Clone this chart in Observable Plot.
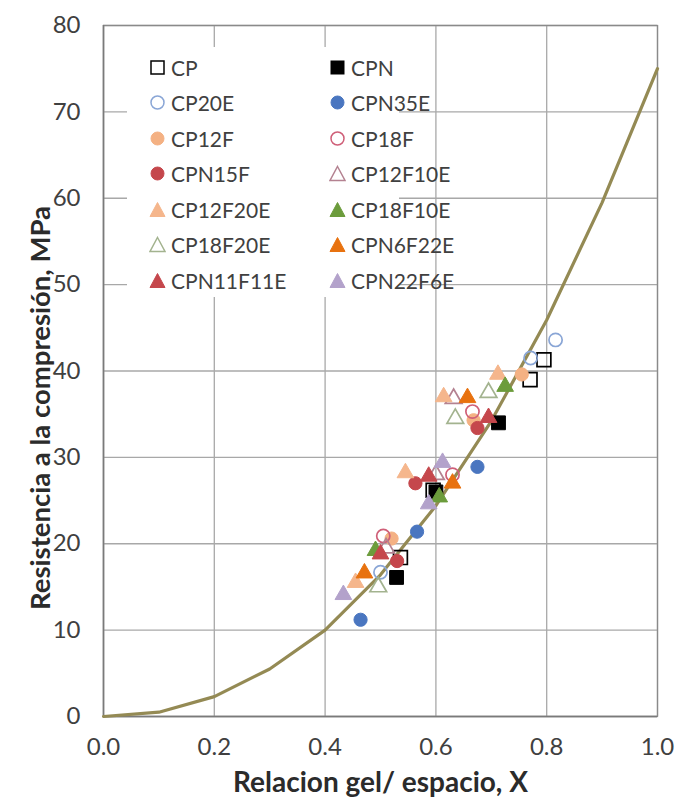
<!DOCTYPE html>
<html><head><meta charset="utf-8">
<script src="https://cdn.jsdelivr.net/npm/d3@7"></script>
<script src="https://cdn.jsdelivr.net/npm/@observablehq/plot@0.6"></script>
<style>
body{margin:0;background:#fff;}
#wrap{position:relative;width:677px;height:804px;font-family:Lato, "Open Sans", sans-serif;}
#legend{position:absolute;left:127px;top:47px;width:272px;height:250px;background:#fff;}
.item{position:absolute;display:flex;align-items:center;height:26px;font-size:21px;color:#404040;white-space:nowrap;}
.item svg{margin-right:5px;}
</style></head><body><div id="wrap"><div id="legend"></div></div>
<script>
// ---- data ----
const xTicks = [0, 0.2, 0.4, 0.6, 0.8, 1.0];
const yTicks = [0, 10, 20, 30, 40, 50, 60, 70, 80];

const curveX = [0, 0.1, 0.2, 0.3, 0.4, 0.5, 0.6, 0.7, 0.8, 0.9, 1.0];
const curveY = [0, 0.5, 2.3, 5.5, 10, 16.4, 24.4, 34.2, 45.9, 59.5, 75];

const CP        = [[0.536, 18.4], [0.595, 26.2], [0.770, 39.0], [0.795, 41.3]];
const CPN       = [[0.529, 16.1], [0.600, 26.0], [0.713, 34.0]];
const CP20E     = [[0.500, 16.7], [0.771, 41.5], [0.816, 43.6]];
const CPN35E    = [[0.464, 11.2], [0.566, 21.4], [0.675, 28.9]];
const CP12F     = [[0.520, 20.6], [0.668, 34.3], [0.755, 39.6]];
const CP18F     = [[0.505, 20.9], [0.630, 28.0], [0.666, 35.3]];
const CPN15F    = [[0.530, 18.0], [0.563, 27.0], [0.675, 33.4]];
const CP12F10E  = [[0.510, 19.5], [0.600, 28.0], [0.632, 36.8]];
const CP12F20E  = [[0.455, 15.5], [0.545, 28.2], [0.614, 37.0], [0.712, 39.6]];
const CP18F10E  = [[0.491, 19.2], [0.606, 25.4], [0.725, 38.2]];
const CP18F20E  = [[0.496, 15.0], [0.635, 34.5], [0.695, 37.5]];
const CPN6F22E  = [[0.471, 16.6], [0.630, 27.0], [0.657, 36.9]];
const CPN11F11E = [[0.500, 18.8], [0.587, 27.8], [0.695, 34.6]];
const CPN22F6E  = [[0.433, 14.1], [0.587, 24.6], [0.612, 29.4]];

const seriesNames = ["CP","CPN","CP20E","CPN35E","CP12F","CP18F","CPN15F","CP12F10E","CP12F20E","CP18F10E","CP18F20E","CPN6F22E","CPN11F11E","CPN22F6E"];
const seriesData  = [CP, CPN, CP20E, CPN35E, CP12F, CP18F, CPN15F, CP12F10E, CP12F20E, CP18F10E, CP18F20E, CPN6F22E, CPN11F11E, CPN22F6E];
const seriesShape = ["square","square","circle","circle","circle","circle","circle","triangle","triangle","triangle","triangle","triangle","triangle","triangle"];
const seriesFilled= [false,true,false,true,true,false,true,false,true,true,false,true,true,true];
const seriesColor = ["#000000","#000000","#8aa6d6","#4a76c0","#f4b183","#cf5f78","#c5474c","#b48291","#f5b68c","#6c9c3c","#a3b38f","#e8720f","#c5474c","#b3a2cb"];

// ---- chart ----
const curve = curveX.map((x, i) => ({x, y: curveY[i]}));
const rFor = {square: 7.8, circle: 6.6, triangle: 6.2};

const dotMarks = seriesData.map((pts, i) => Plot.dot(pts.map(([x, y]) => ({x, y})), {
  x: "x", y: "y", symbol: () => seriesShape[i], r: rFor[seriesShape[i]],
  fill: seriesFilled[i] ? seriesColor[i] : "none",
  stroke: seriesColor[i], strokeWidth: seriesFilled[i] ? 1 : 1.7
}));

const chart = Plot.plot({
  width: 677, height: 804,
  marginLeft: 103, marginRight: 20, marginTop: 25, marginBottom: 88,
  style: {fontFamily: "Lato, 'Open Sans', sans-serif", color: "#404040", background: "#fff"},
  x: {domain: [0, 1]},
  y: {domain: [0, 80]},
  symbol: {type: "identity"},
  marks: [
    Plot.gridX(xTicks, {stroke: "#a8a8a8", strokeOpacity: 1, strokeWidth: 1.3}),
    Plot.gridY(yTicks, {stroke: "#a8a8a8", strokeOpacity: 1, strokeWidth: 1.3}),
    Plot.frame({stroke: "#8a8a8a", strokeWidth: 1.3}),
    Plot.ruleX([0], {stroke: "#7a7a7a", strokeWidth: 1.5}),
    Plot.ruleY([0], {stroke: "#7a7a7a", strokeWidth: 1.5}),
    Plot.axisX(xTicks, {tickSize: 0, tickPadding: 21, fontSize: 24, tickFormat: d3.format(".1f"), label: null, fill: "#404040"}),
    Plot.axisY(yTicks, {tickSize: 0, tickPadding: 23, fontSize: 24, label: null, fill: "#404040"}),
    Plot.line(curve, {x: "x", y: "y", stroke: "#948a54", strokeWidth: 3.2}),
    ...dotMarks,
    Plot.text(["Relacion gel/ espacio, X"], {frameAnchor: "bottom", dy: 75, fontSize: 28, fontWeight: "bold", fill: "#2b2b2b"}),
    Plot.text(["Resistencia a la compresión, MPa"], {frameAnchor: "left", textAnchor: "middle", dx: -62, dy: 37, rotate: -90, fontSize: 27.5, fontWeight: "bold", fill: "#2b2b2b"})
  ]
});
document.getElementById("wrap").prepend(chart);

// ---- legend ----
const legend = document.getElementById("legend");
function symbolSvg(shape, color, filled) {
  const fill = filled ? color : "#fff";
  const sw = filled ? 1 : 1.5;
  let s;
  if (shape === "square") s = `<rect x="2" y="2" width="13" height="13" fill="${fill}" stroke="${color}" stroke-width="${sw}"/>`;
  else if (shape === "circle") s = `<circle cx="8.5" cy="8.5" r="6.5" fill="${fill}" stroke="${color}" stroke-width="${sw}"/>`;
  else s = `<polygon points="8.5,1.5 16,15.5 1,15.5" fill="${fill}" stroke="${color}" stroke-width="${sw}"/>`;
  return `<svg width="17" height="17" viewBox="0 0 17 17">${s}</svg>`;
}
seriesNames.forEach((name, i) => {
  const row = Math.floor(i / 2), col = i % 2;
  const d = document.createElement("div");
  d.className = "item";
  d.style.left = (col === 0 ? 22 : 202) + "px";
  d.style.top = (20 + row * 35.5 - 13) + "px";
  d.innerHTML = symbolSvg(seriesShape[i], seriesColor[i], seriesFilled[i]) + `<span>${name}</span>`;
  legend.appendChild(d);
});
</script></body></html>
